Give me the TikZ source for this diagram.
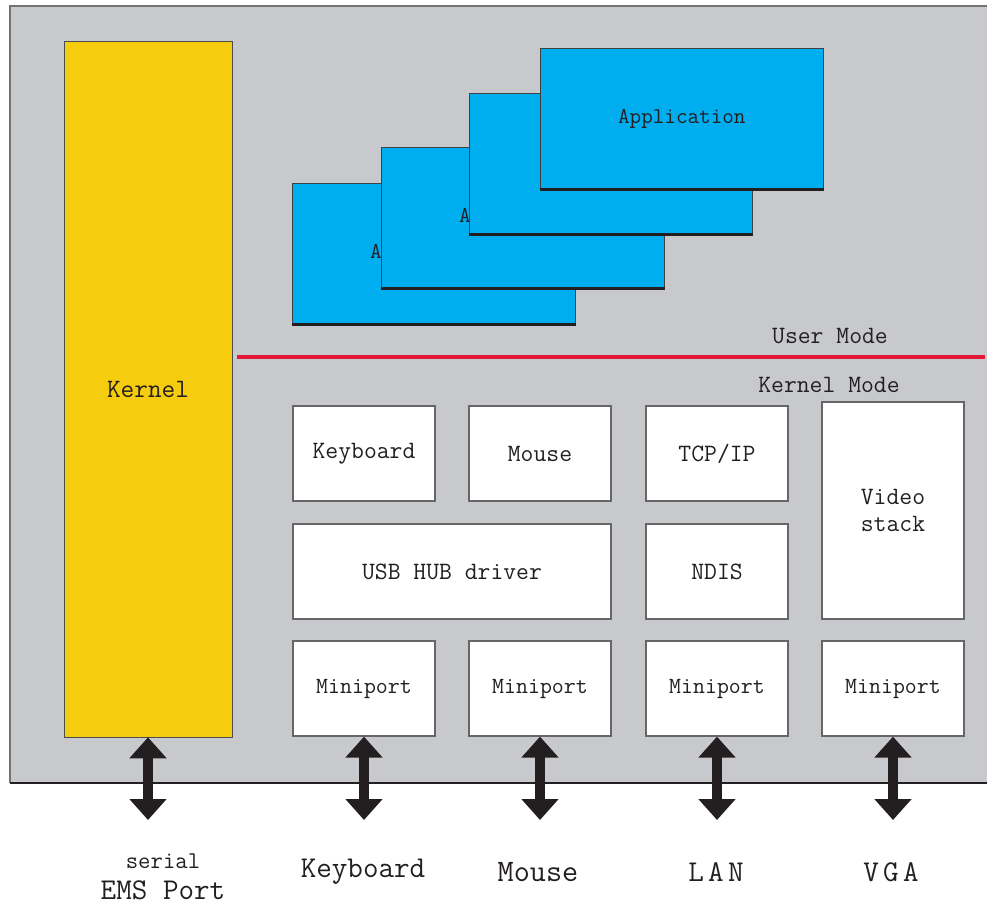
\documentclass[tikz,border=0pt]{standalone}
\usepackage{fontspec}
\usetikzlibrary{arrows.meta}
\definecolor{bggray}{RGB}{199,201,204}
\definecolor{kernyellow}{RGB}{245,205,14}
\definecolor{appblue}{RGB}{0,174,239}
\definecolor{modered}{RGB}{227,24,55}
\definecolor{inkblack}{RGB}{35,31,32}

\begin{document}
\begin{tikzpicture}[x=0.02cm, y=-0.02cm,
  appbox/.style={draw=black!75, fill=appblue, minimum width=5.66cm, minimum height=2.82cm,
    inner sep=0pt, text=inkblack, font=\ttfamily\fontsize{12.8}{15}\selectfont},
  appbase/.style={line width=1.6pt, draw=inkblack},
  drvbox/.style={draw=black!60, line width=0.7pt, fill=white, minimum width=2.84cm,
    minimum height=1.9cm, inner sep=0pt, text=inkblack, font=\ttfamily\fontsize{14.2}{15.3}\selectfont},
  portbox/.style={drvbox, font=\ttfamily\fontsize{13.2}{15}\selectfont},
  ioarrow/.style={draw=inkblack, line width=0.19cm,
    {Triangle[width=0.72cm,length=0.42cm]}-{Triangle[width=0.72cm,length=0.42cm]}},
  iolabel/.style={text=inkblack, font=\ttfamily\fontsize{17.2}{17.6}\selectfont},
  modelabel/.style={text=inkblack, font=\ttfamily\fontsize{14.2}{16}\selectfont}]
\useasboundingbox (0,0) rectangle (987,905);

% system frame
\fill[bggray] (10,6) rectangle (987,783);
\draw[black!55, line width=1.2pt] (10,783) -- (10,6) -- (987,6);
\draw[inkblack, line width=1.7pt] (10,783) -- (987,783);

% kernel
\node[draw=black!70, fill=kernyellow, minimum width=3.36cm, minimum height=13.92cm,
  inner sep=0pt, text=inkblack, font=\ttfamily\fontsize{15.1}{17}\selectfont] (kernel) at (148,389) {Kernel};

% applications, back to front
\foreach \i/\x/\y in {1/292/183, 2/381/147, 3/469/93, 4/540/48} {
  \node[appbox, anchor=north west] (app\i) at (\x,\y) {Application};
  \draw[appbase] (app\i.south west) -- (app\i.south east);
}

% user / kernel boundary
\coordinate (splitl) at (237,357);
\coordinate (splitr) at (985,357);
\draw[modered, line width=2.8pt] (splitl) -- (splitr);
\node[modelabel] (usermode) at (830,336) {User Mode};
\node[modelabel] (kernmode) at (829,385) {Kernel Mode};

% drivers
\node[drvbox] (kbd) at (364,453.5) {Keyboard};
\node[drvbox] (mouse) at (540,453.5) {Mouse};
\node[drvbox] (tcpip) at (717,453.5) {TCP/IP};
\node[drvbox, minimum width=6.36cm] (usbhub) at (452,571.5) {USB HUB driver};
\node[drvbox] (ndis) at (717,571.5) {NDIS};
\node[drvbox, minimum height=4.34cm, align=center] (video) at (893,510.5) {Video\\stack};

\node[portbox] (mpkbd) at (364,688.5) {Miniport};
\node[portbox] (mpmouse) at (540,688.5) {Miniport};
\node[portbox] (mplan) at (717,688.5) {Miniport};
\node[portbox] (mpvga) at (893,688.5) {Miniport};

% hardware side
\coordinate (ioend) at (0,820);
\foreach \n in {kernel, mpkbd, mpmouse, mplan, mpvga}
  \draw[ioarrow] (\n.south) -- (\n.south |- ioend);

\node[iolabel, align=center] (lserial) at (163,877) {{\fontsize{13.7}{14}\selectfont serial}\\EMS Port};
\node[iolabel] (lkbd) at (363,872) {Keyboard};
\node[iolabel, font=\ttfamily\fontsize{17.8}{18}\selectfont] (lmouse) at (538,872) {Mouse};
\node[iolabel] (llan) at (716,872) {L\kern2.5pt A\kern2.5pt N};
\node[iolabel] (lvga) at (891,872) {V\kern2.5pt G\kern2.5pt A};
\end{tikzpicture}
\end{document}
